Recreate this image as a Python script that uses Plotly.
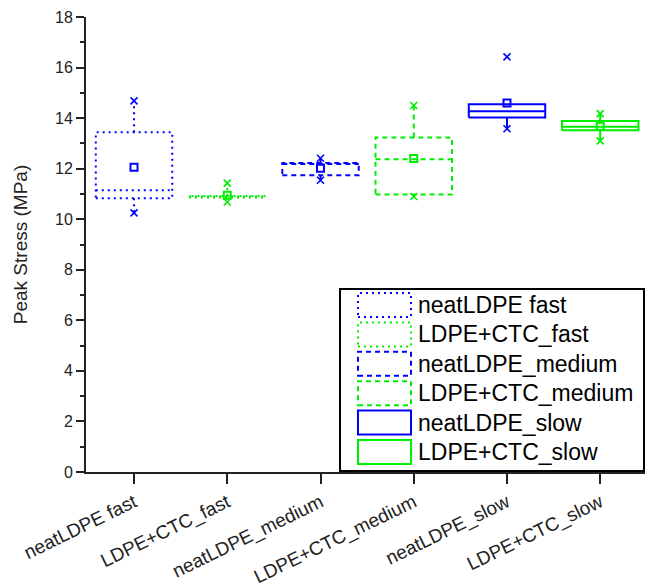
import plotly.graph_objects as go

# Box statistics for peak stress (MPa), one entry per sample / test rate
categories = ["neatLDPE fast", "LDPE+CTC_fast", "neatLDPE_medium",
              "LDPE+CTC_medium", "neatLDPE_slow", "LDPE+CTC_slow"]
q1 = [10.83, 10.86, 11.74, 10.98, 14.02, 13.52]
median = [11.15, 10.90, 12.18, 12.37, 14.27, 13.66]
q3 = [13.44, 10.92, 12.22, 13.23, 14.55, 13.89]
mean = [12.06, 10.95, 12.02, 12.40, 14.60, 13.68]
whisker_lo = [10.25, 10.68, 11.54, 10.90, 13.58, 13.10]
whisker_hi = [14.68, 11.43, 12.41, 14.50, 14.55, 14.18]
min_vals = [10.25, 10.68, 11.54, 10.90, 13.58, 13.10]
max_vals = [14.68, 11.43, 12.41, 14.50, 16.42, 14.18]

BLUE = "#0000ff"
GREEN = "#00ee00"
colors = [BLUE, GREEN, BLUE, GREEN, BLUE, GREEN]
dashes = ["2px,4px", "2px,4px", "5px,4px", "5px,4px", "solid", "solid"]
FONT = "Arial, Liberation Sans, sans-serif"

HALF = 0.41  # half box width in category units

fig = go.Figure()

for i, cat in enumerate(categories):
    x0, x1 = i - HALF, i + HALF
    xs = [x0, x1, x1, x0, x0, None, x0, x1, None, i, i, None, i, i]
    ys = [q1[i], q1[i], q3[i], q3[i], q1[i], None,
          median[i], median[i], None,
          q3[i], whisker_hi[i], None,
          q1[i], whisker_lo[i]]
    fig.add_trace(go.Scatter(
        x=xs, y=ys, mode="lines", name=cat,
        line=dict(color=colors[i], width=2, dash=dashes[i]),
        showlegend=False, hoverinfo="skip"))

xpos = list(range(len(categories)))

# mean markers
fig.add_trace(go.Scatter(
    x=xpos, y=mean, mode="markers", showlegend=False,
    marker=dict(symbol="square-open", size=7, color=colors,
                line=dict(width=2, color=colors))))

# min / max markers
fig.add_trace(go.Scatter(
    x=xpos + xpos, y=min_vals + max_vals, mode="markers", showlegend=False,
    marker=dict(symbol="x-thin-open", size=7, color=colors + colors,
                line=dict(width=1.6, color=colors + colors))))

# plot area in pixels, used to place the hand-drawn legend
PLOT_L, PLOT_R, PLOT_T, PLOT_B = 86, 645, 17, 472


def px_x(px):
    return (px - PLOT_L) / (PLOT_R - PLOT_L)


def px_y(py):
    return (PLOT_B - py) / (PLOT_B - PLOT_T)


shapes = [dict(type="rect", xref="paper", yref="paper",
               x0=px_x(340), x1=px_x(644), y0=px_y(471), y1=px_y(289),
               line=dict(color="black", width=2), fillcolor="white", layer="below")]
annotations = []
for i, cat in enumerate(categories):
    cy = 305 + 29.4 * i
    shapes.append(dict(type="rect", xref="paper", yref="paper",
                       x0=px_x(358), x1=px_x(411), y0=px_y(cy + 12), y1=px_y(cy - 12),
                       line=dict(color=colors[i], width=2, dash=dashes[i])))
    annotations.append(dict(xref="paper", yref="paper", x=px_x(416), y=px_y(cy),
                            text=cat, showarrow=False, xanchor="left", yanchor="middle",
                            font=dict(family=FONT, size=23, color="black")))

fig.update_layout(
    width=648, height=586,
    margin=dict(l=PLOT_L, r=648 - PLOT_R, t=PLOT_T, b=586 - PLOT_B),
    paper_bgcolor="white", plot_bgcolor="white",
    shapes=shapes, annotations=annotations,
    font=dict(family=FONT, color="black"),
    xaxis=dict(range=[-0.515, 5.48], tickmode="array", tickvals=xpos, ticktext=categories,
               tickangle=-26, tickfont=dict(size=19, color="#222"),
               showline=True, linecolor="#222", linewidth=2,
               ticks="outside", ticklen=10, tickwidth=2, tickcolor="#222",
               showgrid=False, zeroline=False, automargin=False),
    yaxis=dict(range=[0, 18], dtick=2, tick0=0,
               tickfont=dict(size=16, color="#222"),
               showline=True, linecolor="#222", linewidth=2,
               ticks="outside", ticklen=8, tickwidth=2, tickcolor="#222",
               minor=dict(dtick=1, ticks="outside", ticklen=4, tickwidth=2, tickcolor="#222"),
               showgrid=False, zeroline=False, automargin=False,
               title=dict(text="Peak Stress (MPa)", font=dict(size=19, color="#222"), standoff=22)),
)

fig.write_html("out.html")
